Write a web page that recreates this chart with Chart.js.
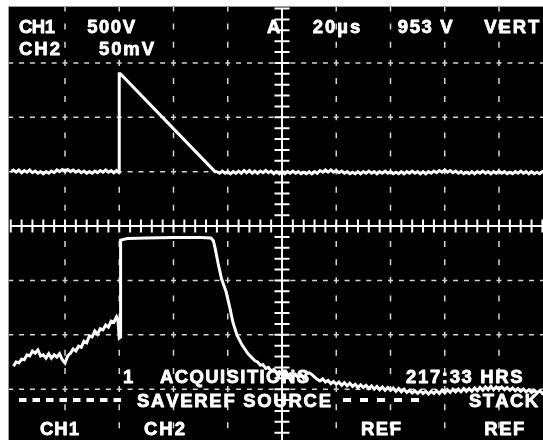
<!DOCTYPE html>
<html>
<head>
<meta charset="utf-8">
<script src="https://cdn.jsdelivr.net/npm/chart.js@4.4.0/dist/chart.umd.min.js"></script>
<style>
html, body { margin: 0; padding: 0; background: #fff; overflow: hidden; }
#wrap { position: absolute; left: 0; top: 0; width: 560px; height: 450px; }
</style>
</head>
<body>
<div id="wrap"><canvas id="scope"></canvas></div>
<script>
// ============================================
// SCOPE CAPTURE DATA (time in us, level in screen divisions)
// ============================================
const US_PER_DIV = 20;
const TIME_MIN = -100, TIME_MAX = 100;
const DIV_MIN = -4, DIV_MAX = 4;

const gridTimes = [-80, -60, -40, -20, 20, 40, 60, 80];
const gridLevels = [-3, -2, -1, 1, 2, 3];

// CH1 500V/div
const ch1Trace = [
  [-100, 1.00], [-99, 1.03], [-98, 0.99], [-97, 1.03], [-96, 0.98], [-95, 1.02], [-94, 0.99], [-93, 1.03], [-92, 0.98], [-91, 1.01],
  [-90, 0.97], [-89, 1.00], [-88, 0.96], [-87, 1.00], [-86, 0.97], [-85, 1.01], [-84, 0.98], [-83, 1.03], [-82, 1.00], [-81, 1.04],
  [-80, 1.01], [-79, 1.04], [-78, 1.00], [-77, 1.03], [-76, 0.99], [-75, 1.02], [-74, 0.98], [-73, 1.01], [-72, 0.97], [-71, 1.00],
  [-70, 0.97], [-69, 1.01], [-68, 0.98], [-67, 1.02], [-66, 0.99], [-65, 1.03], [-64, 0.99], [-63, 1.02], [-62, 0.98], [-61, 1.02],
  [-60.3, 0.99], [-60.0, 0.99], [-60.0, 2.80], [-59.6, 2.80], [-24.7, 1.00],
  [-24, 1.00], [-23, 0.97], [-22, 1.01], [-21, 0.97], [-20, 1.00], [-19, 0.96], [-18, 1.00], [-17, 0.97], [-16, 1.01], [-15, 0.97],
  [-14, 1.02], [-13, 0.98], [-12, 1.02], [-11, 0.97], [-10, 1.01], [-9, 0.97], [-8, 1.01], [-7, 0.98], [-6, 1.02], [-5, 0.98],
  [-4, 1.01], [-3, 0.96], [-2, 1.00], [-1, 0.96], [0, 1.00], [1, 0.96], [2, 1.00], [3, 0.97], [4, 1.01], [5, 0.97],
  [6, 1.00], [7, 0.96], [8, 0.99], [9, 0.96], [10, 1.00], [11, 0.96], [12, 1.00], [13, 0.97], [14, 1.02], [15, 0.99],
  [16, 1.03], [17, 0.99], [18, 1.03], [19, 0.99], [20, 1.02], [21, 0.98], [22, 1.01], [23, 0.97], [24, 1.00], [25, 0.96],
  [26, 0.99], [27, 0.96], [28, 1.00], [29, 0.96], [30, 1.00], [31, 0.97], [32, 1.01], [33, 0.97], [34, 1.00], [35, 0.96],
  [36, 1.00], [37, 0.97], [38, 1.01], [39, 0.97], [40, 1.00], [41, 0.96], [42, 0.99], [43, 0.96], [44, 1.00], [45, 0.96],
  [46, 1.00], [47, 0.97], [48, 1.01], [49, 0.97], [50, 1.00], [51, 0.96], [52, 1.00], [53, 0.96], [54, 1.00], [55, 0.97],
  [56, 1.01], [57, 0.98], [58, 1.02], [59, 0.99], [60, 1.03], [61, 0.99], [62, 1.02], [63, 0.98], [64, 1.01], [65, 0.97],
  [66, 1.00], [67, 0.96], [68, 0.99], [69, 0.96], [70, 1.00], [71, 0.96], [72, 1.00], [73, 0.97], [74, 1.01], [75, 0.97],
  [76, 1.00], [77, 0.96], [78, 1.00], [79, 0.97], [80, 1.01], [81, 0.97], [82, 1.00], [83, 0.96], [84, 0.99], [85, 0.96],
  [86, 1.00], [87, 0.97], [88, 1.01], [89, 0.97], [90, 1.00], [91, 0.96], [92, 1.00], [93, 0.96], [94, 0.99], [95, 0.96],
  [96, 1.00], [97, 0.97], [98, 1.01], [99, 0.97], [100, 1.00]
];

// CH2 50mV/div
const ch2Trace = [
  [-99, -2.58], [-98, -2.50], [-97, -2.52], [-96, -2.45], [-95, -2.46], [-94, -2.37], [-93, -2.39], [-92, -2.30], [-91, -2.34], [-90, -2.28],
  [-89, -2.39], [-88, -2.37], [-87, -2.43], [-86, -2.35], [-85, -2.43], [-84, -2.37], [-83, -2.41], [-82, -2.35], [-81, -2.46], [-80, -2.52],
  [-79, -2.39], [-78, -2.34], [-77, -2.26], [-76, -2.30], [-75, -2.21], [-74, -2.23], [-73, -2.12], [-72, -2.15], [-71, -2.02], [-70, -2.04],
  [-69, -1.93], [-68, -1.99], [-67, -1.89], [-66, -1.91], [-65, -1.82], [-64, -1.86], [-63, -1.75], [-62, -1.77], [-61, -1.67], [-60.5, -1.72],
  [-60.0, -2.06], [-59.5, -2.04], [-59.5, -0.26], [-57, -0.23], [-50, -0.22], [-40, -0.21], [-30, -0.21], [-26.2, -0.22], [-25.3, -0.27],
  [-24.6, -0.42], [-23.5, -0.70], [-22.3, -0.97], [-20.6, -1.21], [-19.2, -1.51], [-18.1, -1.77], [-16.6, -2.01], [-14.7, -2.19], [-12.5, -2.35], [-10.0, -2.48],
  [-9, -2.50], [-8, -2.56], [-7, -2.55], [-6, -2.62], [-5, -2.60], [-4, -2.67], [-3, -2.64], [-2, -2.71], [-1, -2.68], [0, -2.74],
  [1, -2.70], [2, -2.76], [3, -2.72], [4, -2.78], [5, -2.73], [6, -2.79], [7, -2.74], [8, -2.80], [9, -2.72], [10, -2.70],
  [11, -2.73], [12, -2.78], [13, -2.82], [14, -2.85], [15, -2.81], [16, -2.87], [17, -2.84], [18, -2.90], [19, -2.86], [20, -2.91],
  [21, -2.87], [22, -2.93], [23, -2.88], [24, -2.94], [25, -2.89], [26, -2.95], [27, -2.91], [28, -2.97], [29, -2.92], [30, -2.97],
  [31, -2.93], [32, -2.99], [33, -2.94], [34, -3.00], [35, -2.95], [36, -3.01], [37, -2.96], [38, -3.02], [39, -2.97], [40, -3.02],
  [41, -2.98], [42, -3.04], [43, -2.99], [44, -3.05], [45, -3.00], [46, -3.06], [47, -3.02], [48, -3.07], [49, -3.03], [50, -3.08],
  [51, -3.03], [52, -3.08], [53, -3.04], [54, -3.09], [55, -3.04], [56, -3.08], [57, -3.03], [58, -3.08], [59, -3.02], [60, -3.07],
  [61, -3.01], [62, -3.06], [63, -3.00], [64, -3.05], [65, -3.00], [66, -3.05], [67, -2.99], [68, -3.04], [69, -2.99], [70, -3.04],
  [71, -2.98], [72, -3.03], [73, -2.97], [74, -3.02], [75, -2.96], [76, -3.01], [77, -2.95], [78, -3.01], [79, -2.96], [80, -3.00],
  [81, -2.96], [82, -3.01], [83, -2.97], [84, -3.02], [85, -2.98], [86, -3.03], [87, -2.99], [88, -3.04], [89, -3.00], [90, -3.05],
  [91, -3.01], [92, -3.06], [93, -3.02], [94, -3.07], [95, -3.03], [96, -3.08], [97, -3.03], [98, -3.08], [99, -3.03], [100, -3.07]
];

// Screen readouts: text, ink left, ink right, baseline (px)
const readouts = [
  ['CH1', 19, 55, 33.3], ['500V', 87.3, 135, 33.3], ['A', 267, 281, 33.3],
  ['20µs', 312.7, 360.3, 33.3], ['953 V', 397.7, 452.7, 33.3], ['VERT', 484.3, 539.3, 33.3],
  ['CH2', 19, 60, 55], ['50mV', 99, 154, 55],
  ['1', 123, 131, 383], ['ACQUISITIONS', 160, 309, 383], ['217:33 HRS', 406, 522.7, 383],
  ['SAVEREF SOURCE', 137, 331, 406.7], ['STACK', 469, 538, 406.7],
  ['CH1', 40, 79, 435], ['CH2', 144, 185, 435], ['REF', 361, 401, 435], ['REF', 484.3, 524.3, 435]
];
// menu dash rows: from, to, dash, gap, y
const menuDashes = [[19, 126, 7.5, 6, 400], [343, 420, 8, 9, 400]];

const FONT = 'bold 18.5px "Liberation Sans", Arial, sans-serif';
const GRID_COLOR = '#d4d4d4';

// ============================================
// HELPERS
// ============================================
function drawSpaced(c, text, left, right, base) {
    const chars = [...text];
    const widths = chars.map(ch => c.measureText(ch).width);
    const total = widths.reduce((s, w) => s + w, 0);
    const gap = chars.length > 1 ? (right - left - total) / (chars.length - 1) : 0;
    let x = left;
    chars.forEach((ch, i) => {
        c.fillText(ch, x, base);
        c.strokeText(ch, x, base);
        x += widths[i] + gap;
    });
}

const scopePlugin = {
    id: 'scope',
    beforeDraw(chart) {
        const c = chart.ctx;
        c.save();
        c.fillStyle = '#fff';
        c.fillRect(0, 0, chart.width, chart.height);
        c.fillStyle = '#000';
        c.fillRect(9, 7, chart.width - 9, chart.height - 7);
        c.strokeStyle = '#9a9a9a';
        c.lineWidth = 1;
        c.beginPath();
        c.moveTo(8.5, chart.height);
        c.lineTo(8.5, 6.5);
        c.lineTo(chart.width, 6.5);
        c.stroke();
        c.restore();
    },
    beforeDatasetsDraw(chart) {
        const c = chart.ctx;
        const xs = chart.scales.x, ys = chart.scales.y, a = chart.chartArea;
        const divX = xs.getPixelForValue(US_PER_DIV) - xs.getPixelForValue(0);
        const divY = ys.getPixelForValue(0) - ys.getPixelForValue(1);
        c.save();
        c.beginPath();
        c.rect(9, 7, chart.width - 9, chart.height - 7);
        c.clip();

        // dashed graticule
        c.strokeStyle = GRID_COLOR;
        c.lineWidth = 1.5;
        c.setLineDash([5, divX / 5 - 5]);
        gridLevels.forEach(v => {
            const y = ys.getPixelForValue(v);
            c.beginPath();
            c.moveTo(a.left - 2.5, y);
            c.lineTo(a.right, y);
            c.stroke();
        });
        c.setLineDash([6, divY / 3 - 6]);
        gridTimes.forEach(t => {
            const x = xs.getPixelForValue(t);
            c.beginPath();
            c.moveTo(x, a.top - 3);
            c.lineTo(x, a.bottom);
            c.stroke();
        });

        // centre axes with minor ticks
        c.setLineDash([]);
        c.strokeStyle = '#fff';
        c.lineWidth = 2;
        const x0 = xs.getPixelForValue(0), y0 = ys.getPixelForValue(0);
        c.beginPath();
        c.moveTo(a.left, y0); c.lineTo(a.right, y0);
        c.moveTo(x0, a.top); c.lineTo(x0, a.bottom);
        for (let t = TIME_MIN; t <= TIME_MAX; t += US_PER_DIV / 5) {
            const x = xs.getPixelForValue(t);
            c.moveTo(x, y0 - 6.5); c.lineTo(x, y0 + 6.5);
        }
        for (let k = DIV_MIN * 5; k <= DIV_MAX * 5; k++) {
            const y = ys.getPixelForValue(k / 5);
            c.moveTo(x0 - 7.5, y); c.lineTo(x0 + 7.5, y);
        }
        c.stroke();
        c.restore();
    },
    afterDraw(chart) {
        const c = chart.ctx;
        c.save();
        c.fillStyle = '#fff';
        c.strokeStyle = '#fff';
        c.lineWidth = 0.8;
        c.lineJoin = 'round';
        c.font = FONT;
        c.textBaseline = 'alphabetic';
        c.textAlign = 'left';
        readouts.forEach(r => drawSpaced(c, r[0], r[1], r[2], r[3]));

        c.lineWidth = 4;
        menuDashes.forEach(d => {
            c.setLineDash([d[2], d[3]]);
            c.beginPath();
            c.moveTo(d[0], d[4]);
            c.lineTo(d[1], d[4]);
            c.stroke();
        });
        c.restore();
    }
};

// ============================================
// CHART
// ============================================
const toPoints = arr => arr.map(p => ({ x: p[0], y: p[1] }));

new Chart(document.getElementById('scope').getContext('2d'), {
    type: 'scatter',
    data: {
        datasets: [
            {
                label: 'CH1',
                data: toPoints(ch1Trace),
                showLine: true,
                borderColor: '#fff',
                borderWidth: 3,
                pointRadius: 0,
                tension: 0
            },
            {
                label: 'CH2',
                data: toPoints(ch2Trace),
                showLine: true,
                borderColor: '#fff',
                borderWidth: 3,
                pointRadius: 0,
                tension: 0
            }
        ]
    },
    options: {
        responsive: true,
        maintainAspectRatio: false,
        animation: false,
        events: [],
        layout: { padding: { left: 10.75, right: 6.75, top: 8.5, bottom: 6.5 } },
        plugins: { legend: { display: false }, tooltip: { enabled: false } },
        scales: {
            x: { type: 'linear', min: TIME_MIN, max: TIME_MAX, display: false },
            y: { type: 'linear', min: DIV_MIN, max: DIV_MAX, display: false }
        }
    },
    plugins: [scopePlugin]
});
</script>
</body>
</html>
